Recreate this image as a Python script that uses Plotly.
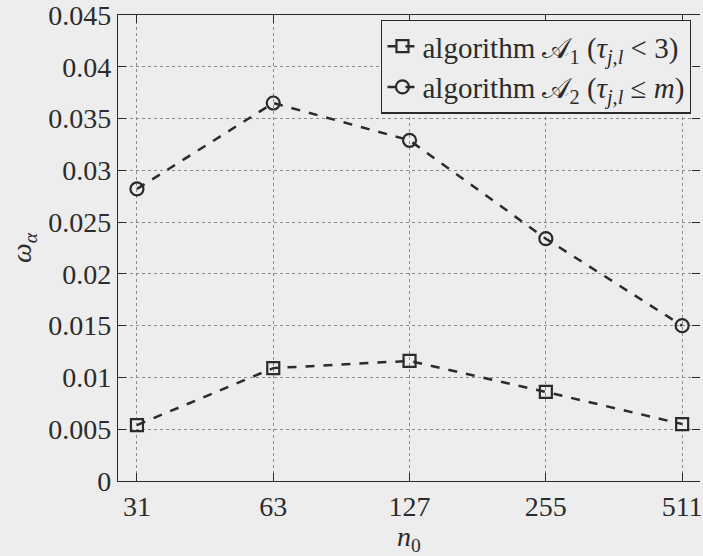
import plotly.graph_objects as go

# Block sizes n0 on the horizontal axis
n0_labels = ["31", "63", "127", "255", "511"]

# omega_alpha for each algorithm
omega_alg1 = [0.0054, 0.0109, 0.0116, 0.0086, 0.0055]
omega_alg2 = [0.0282, 0.0365, 0.0329, 0.0234, 0.0150]

y_ticks = [0, 0.005, 0.01, 0.015, 0.02, 0.025, 0.03, 0.035, 0.04, 0.045]
y_tick_text = ["0", "0.005", "0.01", "0.015", "0.02", "0.025", "0.03", "0.035", "0.04", "0.045"]

ink = "#2b2b2b"
paper = "#ededed"
serif = "Liberation Serif"

fig = go.Figure()
fig.add_trace(go.Scatter(
    x=n0_labels, y=omega_alg1, mode="lines+markers",
    name="algorithm \U0001D49C<sub>1</sub> (<i>τ</i><sub><i>j,l</i></sub> &lt; 3)",
    line=dict(color=ink, width=2.5, dash="dash"),
    marker=dict(symbol="square-open", size=12, color=ink, line=dict(width=2.2, color=ink)),
))
fig.add_trace(go.Scatter(
    x=n0_labels, y=omega_alg2, mode="lines+markers",
    name="algorithm \U0001D49C<sub>2</sub> (<i>τ</i><sub><i>j,l</i></sub> ≤ <i>m</i>)",
    line=dict(color=ink, width=2.5, dash="dash"),
    marker=dict(symbol="circle-open", size=13, color=ink, line=dict(width=2.2, color=ink)),
))
# invisible trace carrying the right-hand tick marks
fig.add_trace(go.Scatter(x=n0_labels, y=omega_alg1, yaxis="y2", mode="none",
                         showlegend=False, hoverinfo="skip"))

fig.update_layout(
    width=703, height=556,
    margin=dict(l=118, r=0, t=13, b=75),
    paper_bgcolor=paper, plot_bgcolor=paper,
    font=dict(family=serif, size=28, color=ink),
    showlegend=True,
    legend=dict(
        x=0.985, xanchor="right", y=0.99, yanchor="top",
        bgcolor=paper, bordercolor=ink, borderwidth=1.2,
        font=dict(family=serif, size=29, color=ink),
        itemwidth=30, tracegroupgap=0,
    ),
    xaxis=dict(
        type="category", categoryorder="array", categoryarray=n0_labels,
        range=[-0.139, 4.131],
        showline=True, linecolor=ink, linewidth=1.3, mirror="ticks",
        ticks="inside", ticklen=8, tickcolor=ink, tickwidth=1.2,
        showgrid=True, gridcolor="#8c8c8c", griddash="dot", gridwidth=1,
        zeroline=False,
        tickfont=dict(family=serif, size=28, color=ink),
        title=dict(text="<i>n</i><sub>0</sub>", standoff=4,
                   font=dict(family=serif, size=28, color=ink)),
    ),
    yaxis=dict(
        range=[0, 0.045], tickvals=y_ticks, ticktext=y_tick_text,
        ticklabeloverflow="allow",
        showline=True, linecolor=ink, linewidth=1.3, mirror=False,
        ticks="inside", ticklen=8, tickcolor=ink, tickwidth=1.2,
        showgrid=True, gridcolor="#8c8c8c", griddash="dot", gridwidth=1,
        zeroline=False,
        tickfont=dict(family=serif, size=28, color=ink),
        title=dict(text="<i>ω</i><sub><i>α</i></sub>", standoff=8,
                   font=dict(family=serif, size=28, color=ink)),
    ),
    yaxis2=dict(
        overlaying="y", side="right", range=[0, 0.045], tickvals=y_ticks,
        showticklabels=False, showline=False, showgrid=False, zeroline=False,
        ticks="inside", ticklen=8, tickcolor=ink, tickwidth=1.2,
    ),
)

fig.write_html("out.html")
